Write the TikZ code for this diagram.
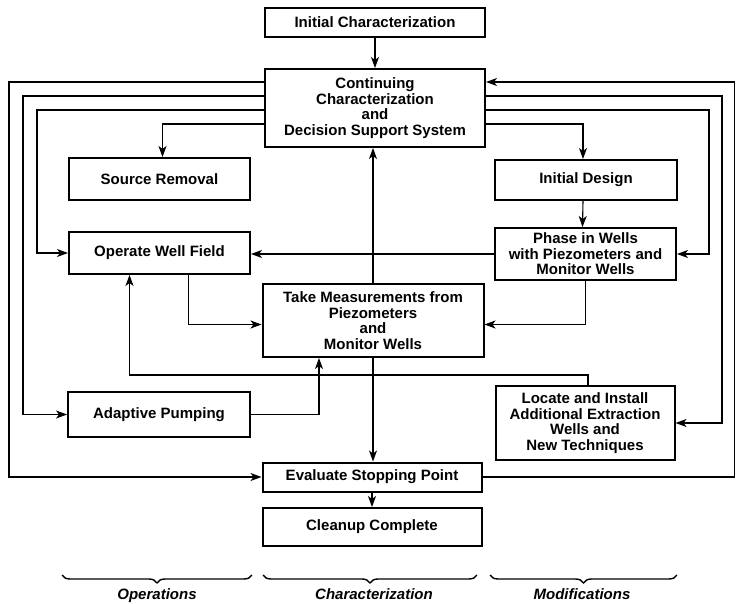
\documentclass[tikz,border=0pt]{standalone}
\usepackage{fontspec}
\setmainfont{Liberation Sans}
\usetikzlibrary{arrows.meta,positioning,calc,decorations.pathreplacing}
\tikzset{
  stagebox/.style={
    draw=black,
    line width=2pt,
    align=center,
    inner sep=2pt,
    font=\fontsize{15}{15.5}\selectfont\bfseries
  },
  loopflow/.style={-{Stealth[length=11pt,width=8pt,inset=3pt]},line width=1.1pt,draw=black},
  phasebrace/.style={decorate,decoration={brace,mirror,amplitude=8pt},line width=1.4pt},
  phaselabel/.style={anchor=base,inner sep=0pt,font=\fontsize{15}{15}\selectfont\bfseries\itshape}
}

\begin{document}
\begin{tikzpicture}[x=1pt,y=-1pt]
  \useasboundingbox (0,0) rectangle (740,604);

  % characterization column
  \node[stagebox,minimum width=220pt,minimum height=29pt] (init) at (375,22.5) {
    Initial Characterization};
  \node[stagebox,minimum width=220pt,minimum height=78pt] (cont) at (375,108) {
    Continuing\\Characterization\\and\\Decision Support System};
  \node[stagebox,minimum width=221pt,minimum height=73pt] (meas) at (373,320.5) {
    Take Measurements from\\Piezometers\\and\\Monitor Wells};
  \node[stagebox,minimum width=219pt,minimum height=29pt] (eval) at (372,477) {
    Evaluate Stopping Point};
  \node[stagebox,minimum width=219pt,minimum height=38pt] (clean) at (372,527) {
    Cleanup Complete};

  % operations column
  \node[stagebox,minimum width=181pt,minimum height=42pt] (source) at (159.5,179) {
    Source Removal};
  \node[stagebox,minimum width=181pt,minimum height=42pt] (wellfield) at (159.5,253) {
    Operate Well Field};
  \node[stagebox,minimum width=182pt,minimum height=45pt] (pumping) at (159,414.5) {
    Adaptive Pumping};

  % modifications column
  \node[stagebox,minimum width=182pt,minimum height=40pt] (design) at (586,180) {
    Initial Design};
  \node[stagebox,minimum width=181pt,minimum height=52pt] (phasein) at (585.5,254) {
    Phase in Wells\\with Piezometers and\\Monitor Wells};
  \node[stagebox,minimum width=179pt,minimum height=74pt] (locate) at (585,423) {
    Locate and Install\\Additional Extraction\\Wells and\\New Techniques};

  % main line
  \draw[loopflow] (init) -- (cont);
  \draw[loopflow] (meas.north) -- (meas.north |- cont.south);
  \draw[loopflow] (meas.south) -- (meas.south |- eval.north);
  \draw[loopflow] (eval) -- (clean);

  % loops to the left
  \draw[loopflow] ([yshift=26pt]cont.west) -- ++(-255,0) |- (eval.west);
  \draw[loopflow] ([yshift=12pt]cont.west) -- ++(-241,0) |- (pumping.west);
  \draw[loopflow] ([yshift=-2pt]cont.west) -- ++(-227,0) |- (wellfield.west);
  \draw[loopflow] ([yshift=-16pt]cont.west) -| ([xshift=3pt]source.north);

  % loops to the right
  \draw[loopflow] (eval.east) -- ++(252,0) |- ([yshift=26pt]cont.east);
  \draw[loopflow] ([yshift=12pt]cont.east) -- ++(236,0) |- (locate.east);
  \draw[loopflow] ([yshift=-2pt]cont.east) -- ++(223,0) |- (phasein.east);
  \draw[loopflow] ([yshift=-16pt]cont.east) -| ([xshift=-3pt]design.north);

  % inner links
  \draw[loopflow] ([xshift=-3pt]design.south) -- ([xshift=-3pt]phasein.north);
  \draw[loopflow] (phasein.west) -- (phasein.west -| wellfield.east);
  \draw[loopflow] (phasein.south) |- ([yshift=-4pt]meas.east);
  \draw[loopflow] ([xshift=29pt]wellfield.south) |- ([yshift=-4pt]meas.west);
  \draw[loopflow] ([xshift=3pt]locate.north) -- ++(0,-10) -| ([xshift=-30pt]wellfield.south);
  \draw[loopflow] (pumping.east) -| ([xshift=-54pt]meas.south);

  % column braces
  \draw[phasebrace] (62,575) -- (252,575);
  \node[phaselabel] (ops) at (157,599) {Operations};
  \draw[phasebrace] (263,575) -- (477,575);
  \node[phaselabel] (chr) at (374,599) {Characterization};
  \draw[phasebrace] (490,575) -- (677,575);
  \node[phaselabel] (mods) at (582,599) {Modifications};
\end{tikzpicture}
\end{document}
